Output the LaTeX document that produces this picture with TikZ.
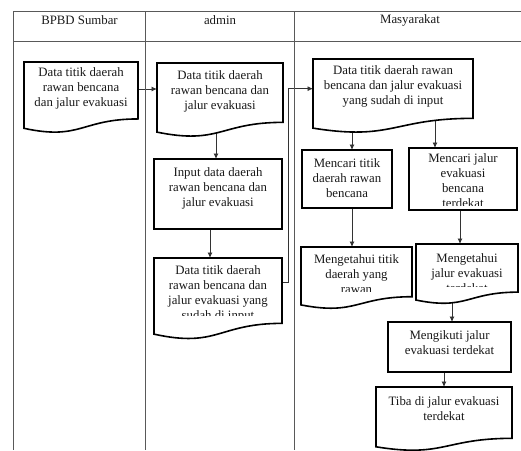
\documentclass[tikz,border=0pt]{standalone}
\usepackage{fontspec}
\setmainfont{Liberation Serif}
\usetikzlibrary{arrows.meta,calc}
\pgfdeclarelayer{bg}
\pgfsetlayers{bg,main}
\newcommand\docshape[5]{%
  \node[docrect, minimum width=#4pt-#2pt, minimum height=0.802*#5pt, anchor=north west] (#1) at (#2,-#3) {};
  \draw[boxline] (#1.north west) -- (#1.north east) -- (#1.south east)
    .. controls (#1.south) and ($(#1.south)+(0,{-0.3055*#5})$) .. ($(#1.south west)+(0,{-0.132*#5})$) -- cycle;
}
\newcommand\procshape[5]{%
  \node[proc, minimum width=#4pt-#2pt, minimum height=#5pt-#3pt, anchor=north west] (#1) at (#2,-#3) {};
}
\begin{document}
\begin{tikzpicture}[x=1pt,y=1pt,
  docrect/.style={draw=none, inner sep=0, outer sep=0},
  boxline/.style={draw=black, line width=1.6pt, fill=white, line join=miter},
  proc/.style={draw=black, line width=1.6pt, fill=white, inner sep=0, outer sep=0},
  txt/.style={font=\fontsize{12.8}{15}\selectfont, align=center, inner sep=0, text=black!90},
  hdr/.style={font=\fontsize{12.8}{15}\selectfont, inner sep=0, text=black!90},
  frame/.style={draw=black!65, line width=0.9pt},
  arr/.style={draw=black!80, line width=0.8pt, -{Latex[length=5.5pt,width=5pt]}}]
\useasboundingbox (0,0) rectangle (521,-450);

% swimlane frame
\coordinate (ftl) at (13,-11);
\coordinate (ftr) at (521,-11);
\coordinate (fhl) at (13,-41);
\coordinate (fhr) at (521,-41);
\coordinate (fbl) at (13,-450);
\coordinate (d1t) at (145,-11);
\coordinate (d1b) at (145,-450);
\coordinate (d2t) at (294,-11);
\coordinate (d2b) at (294,-450);
\draw[frame] (ftl) -- (ftr);
\draw[frame] (fhl) -- (fhr);
\draw[frame] (ftl) -- (fbl);
\draw[frame] (d1t) -- (d1b);
\draw[frame] (d2t) -- (d2b);
\node[hdr] (h1) at (79.5,-20) {BPBD Sumbar};
\node[hdr] (h2) at (220,-20) {admin};
\node[hdr] (h3) at (410,-20) {Masyarakat};

% documents and processes
\docshape{bp}{24}{62}{138}{71}
\node[txt] (bpt) at (81,-88.5) {Data titik daerah\\rawan bencana\\dan jalur evakuasi};

\docshape{da}{157}{63}{283}{74}
\node[txt] (dat) at (220,-91) {Data titik daerah\\rawan bencana dan\\jalur evakuasi};

\procshape{in}{154}{159}{282}{229}
\node[txt] (int) at (218,-188.5) {Input data daerah\\rawan bencana dan\\jalur evakuasi};

\docshape{db}{154}{258}{282}{81.5}
\begin{scope}
  \clip (154,-258) rectangle (282,-315.5);
  \node[txt] (dbt) at (218,-294) {Data titik daerah\\rawan bencana dan\\jalur evakuasi yang\\sudah di input};
\end{scope}

\docshape{dc}{313}{59}{473}{74}
\node[txt] (dct) at (393,-86) {Data titik daerah rawan\\bencana dan jalur evakuasi\\yang sudah di input};

\procshape{ma}{302}{150}{392}{208}
\node[txt] (mat) at (347,-178) {Mencari titik\\daerah rawan\\bencana};

\procshape{mb}{409}{148}{517}{210}
\begin{scope}
  \clip (409,-148) rectangle (517,-205);
  \node[txt] (mbt) at (463,-181) {Mencari jalur\\evakuasi\\bencana\\terdekat};
\end{scope}

\docshape{ta}{301}{247}{412}{62}
\begin{scope}
  \clip (301,-247) rectangle (412,-291);
  \node[txt] (tat) at (356.5,-274.5) {Mengetahui titik\\daerah yang\\rawan};
\end{scope}

\docshape{tb}{416}{244}{518}{60}
\begin{scope}
  \clip (416,-244) rectangle (518,-286.5);
  \node[txt] (tbt) at (467,-273) {Mengetahui\\jalur evakuasi\\terdekat};
\end{scope}

\procshape{fo}{388}{322}{511}{372}
\node[txt] (fot) at (449.5,-343) {Mengikuti jalur\\evakuasi terdekat};

\docshape{ti}{376}{387}{512}{64}
\node[txt] (tit) at (444,-408.5) {Tiba di jalur evakuasi\\terdekat};

% connectors
\begin{pgfonlayer}{bg}
\draw[arr] (bp.east |- 0,-89) -- (da.west |- 0,-89);
\draw[arr] ([xshift=-2pt]in.north |- da.south) -- ([xshift=-2pt]in.north);
\draw[arr] ([xshift=-8pt]in.south) -- ([xshift=-8pt]in.south |- db.north);
\draw[arr] ([yshift=8pt]db.east) -- ++(6,0) |- (dc.west);
\draw[arr] ([xshift=5pt]ma.north |- dc.south) -- ([xshift=5pt]ma.north);
\draw[arr] ([xshift=-28pt]mb.north |- dc.south) -- ([xshift=-28pt]mb.north);
\draw[arr] ([xshift=5pt]ma.south) -- ([xshift=5pt]ma.south |- ta.north);
\draw[arr] ([xshift=-3pt]mb.south) -- ([xshift=-3pt]mb.south |- tb.north);
\draw[arr] ([xshift=2.5pt]fo.north |- tb.south) -- ([xshift=2.5pt]fo.north);
\draw[arr] (ti.north |- fo.south) -- (ti.north);
\end{pgfonlayer}
\end{tikzpicture}
\end{document}
